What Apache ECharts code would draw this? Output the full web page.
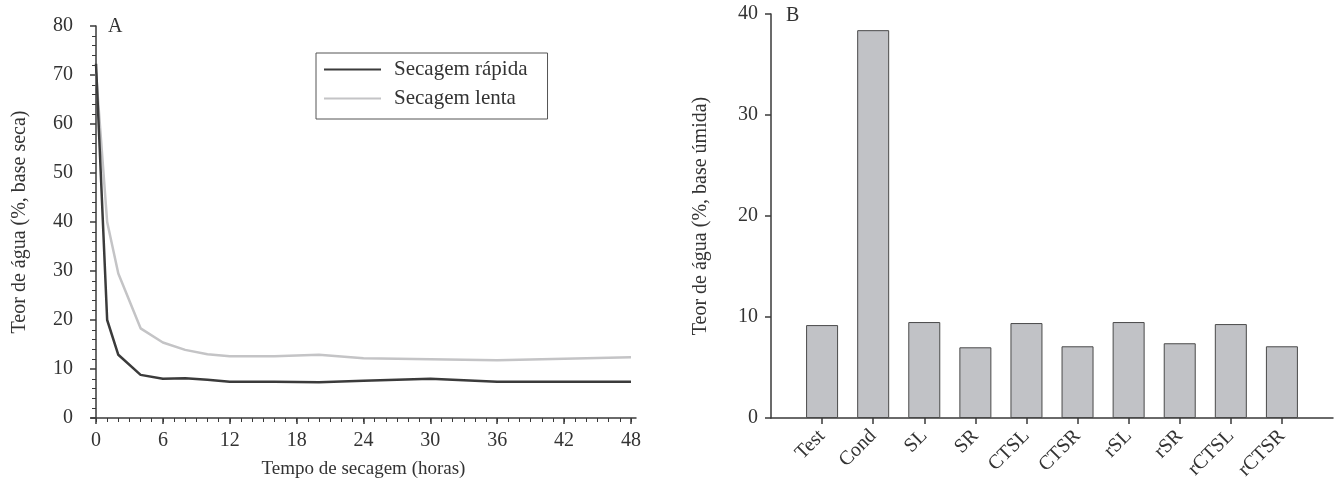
<!DOCTYPE html>
<html><head><meta charset="utf-8">
<script src="https://cdn.jsdelivr.net/npm/echarts@6/dist/echarts.min.js"></script>
<style>html,body{margin:0;padding:0;background:#fff}#c{width:1339px;height:485px}</style>
</head><body><div id="c"></div>
<script>
const hours = [0, 1, 2, 4, 6, 8, 10, 12, 16, 20, 24, 30, 36, 40, 48];
const rapida = [72.3, 20.0, 12.9, 8.8, 8.0, 8.1, 7.8, 7.4, 7.4, 7.3, 7.6, 8.0, 7.4, 7.4, 7.4];
const lenta = [70.5, 40.0, 29.5, 18.3, 15.4, 13.9, 13.0, 12.6, 12.6, 12.9, 12.2, 12.0, 11.8, 12.0, 12.4];
const hourTicks = [0, 6, 12, 18, 24, 30, 36, 42, 48];
const hourMinorTicks = [0,1,2,3,4,5,6,7,8,9,10,11,12,13,14,15,16,17,18,19,20,21,22,23,24,25,26,27,28,29,30,31,32,33,34,35,36,37,38,39,40,41,42,43,44,45,46,47,48];
const treatments = ['Test', 'Cond', 'SL', 'SR', 'CTSL', 'CTSR', 'rSL', 'rSR', 'rCTSL', 'rCTSR'];
const teorUmida = [9.2, 38.4, 9.5, 7.0, 9.4, 7.1, 9.5, 7.4, 9.3, 7.1];

const FONT = 'Liberation Serif';
const AX = '#3a3a3a';
const TXT = '#333';
const padCats = [''].concat(treatments, ['']);
const padVals = [null].concat(teorUmida, [null]);

const chart = echarts.init(document.getElementById('c'), null, {renderer: 'canvas'});
chart.setOption({
  animation: false,
  textStyle: {fontFamily: FONT, color: TXT},
  grid: [
    {left: 91, top: 26, width: 545, height: 392, containLabel: false},
    {left: 771, top: 14, width: 562, height: 404, containLabel: false}
  ],
  legend: {
    left: 316, top: 53,
    orient: 'vertical',
    itemWidth: 57, itemHeight: 2, itemGap: 8,
    padding: [6, 20, 10, 8],
    borderColor: '#555', borderWidth: 1,
    textStyle: {fontFamily: FONT, fontSize: 21, color: TXT, padding: [0, 0, 0, 8]},
    icon: 'rect',
    data: ['Secagem rápida', 'Secagem lenta']
  },
  xAxis: [
    {
      type: 'value', gridIndex: 0, min: -0.45, max: 48.45,
      name: 'Tempo de secagem (horas)', nameLocation: 'middle', nameGap: 42,
      nameTextStyle: {fontFamily: FONT, fontSize: 19, color: TXT},
      axisLine: {show: true, onZero: false, lineStyle: {color: AX, width: 1.5}},
      axisTick: {show: true, inside: false, length: 6, customValues: hourTicks, lineStyle: {color: AX, width: 1.5}},
      axisLabel: {fontFamily: FONT, fontSize: 20, color: TXT, margin: 13, customValues: hourTicks},
      splitLine: {show: false}
    },
    {
      type: 'value', gridIndex: 0, min: -0.45, max: 48.45, position: 'bottom',
      axisLine: {show: false, onZero: false},
      axisTick: {show: true, inside: false, length: 4, customValues: hourMinorTicks, lineStyle: {color: AX, width: 1}},
      axisLabel: {show: false},
      splitLine: {show: false}
    },
    {
      type: 'category', gridIndex: 1, data: padCats, boundaryGap: false,
      axisLine: {show: true, lineStyle: {color: AX, width: 1.5}},
      axisTick: {show: true, length: 6, interval: (i, v) => v !== '', lineStyle: {color: AX, width: 1.5}},
      axisLabel: {fontFamily: FONT, fontSize: 20, color: TXT, rotate: 45, margin: 15, interval: 0},
      splitLine: {show: false}
    }
  ],
  yAxis: [
    {
      type: 'value', gridIndex: 0, min: 0, max: 80, interval: 10,
      name: 'Teor de água (%, base seca)', nameLocation: 'middle', nameGap: 61,
      nameTextStyle: {fontFamily: FONT, fontSize: 20, color: TXT},
      axisLine: {show: true, lineStyle: {color: AX, width: 1.5}},
      axisTick: {show: true, length: 6, lineStyle: {color: AX, width: 1.5}},
      minorTick: {show: true, splitNumber: 5, length: 4, lineStyle: {color: AX, width: 1}},
      axisLabel: {fontFamily: FONT, fontSize: 20, color: TXT, margin: 18},
      splitLine: {show: false}
    },
    {
      type: 'value', gridIndex: 1, min: 0, max: 40, interval: 10,
      name: 'Teor de água (%, base úmida)', nameLocation: 'middle', nameGap: 60,
      nameTextStyle: {fontFamily: FONT, fontSize: 20, color: TXT},
      axisLine: {show: true, lineStyle: {color: AX, width: 1.5}},
      axisTick: {show: true, length: 6, lineStyle: {color: AX, width: 1.5}},
      axisLabel: {fontFamily: FONT, fontSize: 20, color: TXT, margin: 13},
      splitLine: {show: false}
    }
  ],
  series: [
    {
      name: 'Secagem lenta', type: 'line', xAxisIndex: 0, yAxisIndex: 0,
      data: hours.map((h, i) => [h, lenta[i]]),
      symbol: 'none', lineStyle: {color: '#c4c4c6', width: 2.5}, itemStyle: {color: '#c4c4c6'}
    },
    {
      name: 'Secagem rápida', type: 'line', xAxisIndex: 0, yAxisIndex: 0,
      data: hours.map((h, i) => [h, rapida[i]]),
      symbol: 'none', lineStyle: {color: '#3b3b3b', width: 2.5}, itemStyle: {color: '#3b3b3b'}
    },
    {
      name: 'Teor', type: 'bar', xAxisIndex: 2, yAxisIndex: 1,
      data: padVals, barWidth: 32,
      itemStyle: {color: '#c1c2c6', borderColor: '#4a4a4a', borderWidth: 1}
    }
  ],
  graphic: [
    {type: 'text', x: 108, y: 27, style: {text: 'A', font: '20px "Liberation Serif"', fill: TXT, verticalAlign: 'middle'}},
    {type: 'text', x: 786, y: 16, style: {text: 'B', font: '20px "Liberation Serif"', fill: TXT, verticalAlign: 'middle'}}
  ]
});
</script></body></html>
